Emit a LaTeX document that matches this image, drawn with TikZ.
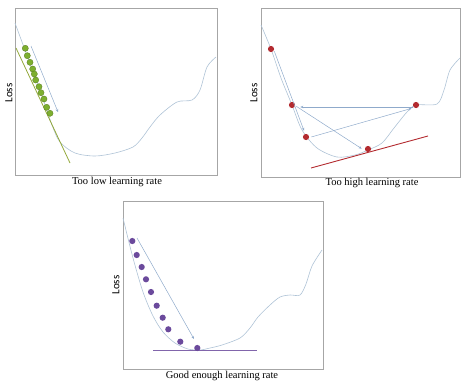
\documentclass[tikz,border=0pt]{standalone}
\usepackage{fontspec}
\setmainfont{Liberation Serif}
\newfontfamily\losfont{Carlito}
\usepackage{xcolor}
\definecolor{Frame}{HTML}{A6A6A6}
\definecolor{Curve}{HTML}{AFC3D6}
\definecolor{Arrow}{HTML}{8FAACB}
\definecolor{Leaf}{HTML}{7DAF2F}
\definecolor{LeafLine}{HTML}{93A83A}
\definecolor{Brick}{HTML}{B32B30}
\definecolor{Plum}{HTML}{6B4A9C}
\colorlet{frame}{Frame}
\colorlet{curve}{Curve}
\colorlet{arrowc}{Arrow}
\colorlet{leaf}{Leaf}
\colorlet{leafline}{LeafLine}
\colorlet{brick}{Brick}
\colorlet{plum}{Plum}
\usetikzlibrary{arrows.meta,positioning}

\begin{document}
\begin{tikzpicture}[x=1pt,y=-1pt,
  every node/.style={font=\fontsize{10.5}{12}\selectfont},
  panel/.style={draw=frame,line width=0.6pt},
  loss/.style={font=\losfont\fontsize{11}{12}\selectfont,rotate=90},
  lossc/.style={draw=curve,line width=0.6pt},
  dot/.style={circle,inner sep=0pt,minimum size=6.2pt},
  stepar/.style={draw=arrowc,line width=0.5pt,-{Stealth[length=3pt,width=2.5pt]}}]
\useasboundingbox (0,0) rectangle (474,389);
% too low
\draw[panel] (15,8) rectangle (217,175);
\node[loss] (l1) at (9,93) {Loss};
\node (t1) at (117,182) {Too low learning rate};
\draw[lossc] plot[smooth] coordinates {(15,23) (25,50) (40,90) (52,125) (60,142) (75,153) (95,156) (115,153) (133,147) (142,138) (150,127) (160,115) (177,102) (192,100) (200,90) (207,67) (216,57)};
\draw[leafline,line width=0.8pt] (16,48) -- (70,163);
\foreach \x/\y [count=\i] in {25.3/48.3,27.3/55.7,30/62.3,32.7/69,34.3/74,35.7/80,39/86.7,41/92.7,44/99,46.7/107.3,50/113.3}
  \node[dot,fill=leaf,draw=leaf!70!black,line width=0.3pt] (g\i) at (\x,\y) {};
\coordinate (ga) at (31,46);
\coordinate (gb) at (58,112);
\draw[stepar] (ga) -- (gb);
% too high
\draw[panel] (261,8) rectangle (460,177);
\node[loss] (l2) at (254,93) {Loss};
\node (t2) at (372,183) {Too high learning rate};
\draw[lossc] plot[smooth] coordinates {(261,25) (271,49) (281,78) (292,105) (302,130) (317,148) (337,157) (355,155) (368,150) (382,143) (394,128) (407,112) (416,105) (437,104) (444,90) (450,70) (460,58)};
\draw[brick,line width=0.9pt] (311,168) -- (428,136);
\node[dot,fill=brick] (r1) at (271,49) {};
\node[dot,fill=brick] (r2) at (292,105) {};
\node[dot,fill=brick] (r3) at (306,137) {};
\node[dot,fill=brick] (r4) at (368,149) {};
\node[dot,fill=brick] (r5) at (416,105) {};
\draw[stepar] ([xshift=1pt]r1.south east) -- ([shift={(-2pt,3pt)}]r3.north);
\draw[stepar] ([shift={(2pt,1pt)}]r2.south east) -- ([shift={(-4pt,-2pt)}]r4.north west);
\draw[stepar] ([xshift=2pt]r3.east) -- ([shift={(-2pt,-1pt)}]r5.south west);
\draw[stepar] ([yshift=-2pt]r5.west) -- ([shift={(5pt,-2pt)}]r2.east);
% good enough
\draw[panel] (123,201) rectangle (323,369);
\node[loss] (l3) at (116,285) {Loss};
\node (t3) at (222,376) {Good enough learning rate};
\draw[lossc] plot[smooth] coordinates {(123,218) (133,258) (143,292) (153,316) (163,332) (175,343) (188,349) (200,350) (210,348) (222,345) (240,338) (250,328) (258,317) (270,305) (280,297) (290,295) (300,295) (306,284) (312,266) (322,250)};
\draw[plum!85!white,line width=0.9pt] (153,350) -- (257,350);
\foreach \x/\y [count=\i] in {132.3/241,136.7/255,141.7/267,146/279.3,151/292,156.7/305.7,162.7/317.7,168.3/329.3,180.3/341.7,197.3/348}
  \node[dot,fill=plum] (p\i) at (\x,\y) {};
\coordinate (pa) at (137,238);
\coordinate (pb) at (194,339);
\draw[stepar] (pa) -- (pb);
\end{tikzpicture}
\end{document}
